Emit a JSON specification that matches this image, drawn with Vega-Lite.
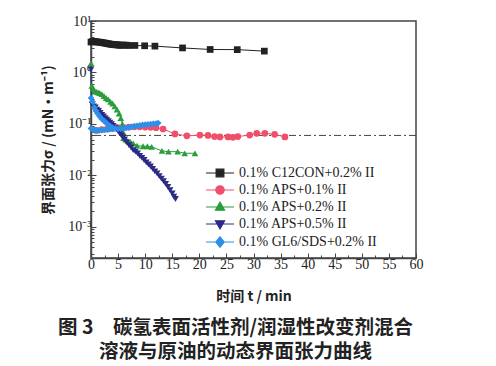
{
  "$schema": "https://vega.github.io/schema/vega-lite/v6.json",
  "width": 325,
  "height": 237,
  "autosize": {"type": "none"},
  "padding": {"left": 91, "top": 21, "right": 80, "bottom": 108},
  "background": "white",
  "title": {
    "text": ["图 3　碳氢表面活性剂/润湿性改变剂混合", "溶液与原油的动态界面张力曲线"],
    "orient": "bottom",
    "anchor": "middle",
    "font": "Noto Sans CJK SC",
    "fontSize": 19.5,
    "fontWeight": "bold",
    "color": "#222",
    "lineHeight": 24,
    "offset": 16,
    "dx": -18
  },
  "data": {
    "values": [
      {"s": "A", "b": "m", "t": 0, "v": 3.9},
      {"s": "A", "b": "m", "t": 0.3, "v": 4.0},
      {"s": "A", "b": "m", "t": 0.6, "v": 4.0},
      {"s": "A", "b": "m", "t": 0.9, "v": 3.95},
      {"s": "A", "b": "m", "t": 1.2, "v": 3.9},
      {"s": "A", "b": "m", "t": 1.5, "v": 3.9},
      {"s": "A", "b": "m", "t": 1.8, "v": 3.85},
      {"s": "A", "b": "m", "t": 2.1, "v": 3.8},
      {"s": "A", "b": "m", "t": 2.4, "v": 3.75},
      {"s": "A", "b": "m", "t": 2.7, "v": 3.7},
      {"s": "A", "b": "m", "t": 3.0, "v": 3.65},
      {"s": "A", "b": "m", "t": 3.3, "v": 3.6},
      {"s": "A", "b": "m", "t": 3.6, "v": 3.55},
      {"s": "A", "b": "m", "t": 3.9, "v": 3.5},
      {"s": "A", "b": "m", "t": 4.2, "v": 3.5},
      {"s": "A", "b": "m", "t": 4.5, "v": 3.45},
      {"s": "A", "b": "m", "t": 4.8, "v": 3.45},
      {"s": "A", "b": "m", "t": 5.1, "v": 3.4},
      {"s": "A", "b": "m", "t": 5.4, "v": 3.4},
      {"s": "A", "b": "m", "t": 5.7, "v": 3.4},
      {"s": "A", "b": "m", "t": 6.0, "v": 3.4},
      {"s": "A", "b": "m", "t": 6.5, "v": 3.4},
      {"s": "A", "b": "m", "t": 7.0, "v": 3.35},
      {"s": "A", "b": "m", "t": 8.1, "v": 3.35},
      {"s": "A", "b": "m", "t": 9.9, "v": 3.3},
      {"s": "A", "b": "m", "t": 11.8, "v": 3.25},
      {"s": "A", "b": "m", "t": 16.9, "v": 3.0},
      {"s": "A", "b": "m", "t": 22.0, "v": 2.8},
      {"s": "A", "b": "m", "t": 27.0, "v": 2.78},
      {"s": "A", "b": "m", "t": 32.0, "v": 2.6},

      {"s": "B", "b": "m", "t": 1, "v": 0.075},
      {"s": "B", "b": "m", "t": 2, "v": 0.078},
      {"s": "B", "b": "m", "t": 3, "v": 0.08},
      {"s": "B", "b": "m", "t": 4, "v": 0.082},
      {"s": "B", "b": "m", "t": 5, "v": 0.085},
      {"s": "B", "b": "m", "t": 6, "v": 0.085},
      {"s": "B", "b": "m", "t": 7, "v": 0.087},
      {"s": "B", "b": "m", "t": 8, "v": 0.088},
      {"s": "B", "b": "m", "t": 9, "v": 0.088},
      {"s": "B", "b": "m", "t": 10, "v": 0.087},
      {"s": "B", "b": "m", "t": 11, "v": 0.086},
      {"s": "B", "b": "m", "t": 12, "v": 0.085},
      {"s": "B", "b": "m", "t": 13.3, "v": 0.08},
      {"s": "B", "b": "m", "t": 15.5, "v": 0.064},
      {"s": "B", "b": "m", "t": 17.7, "v": 0.059},
      {"s": "B", "b": "m", "t": 20.1, "v": 0.061},
      {"s": "B", "b": "m", "t": 21.6, "v": 0.06},
      {"s": "B", "b": "m", "t": 22.8, "v": 0.057},
      {"s": "B", "b": "m", "t": 23.8, "v": 0.056},
      {"s": "B", "b": "m", "t": 25.3, "v": 0.056},
      {"s": "B", "b": "m", "t": 26.2, "v": 0.055},
      {"s": "B", "b": "m", "t": 27.1, "v": 0.057},
      {"s": "B", "b": "m", "t": 29.3, "v": 0.061},
      {"s": "B", "b": "m", "t": 30.6, "v": 0.066},
      {"s": "B", "b": "m", "t": 32.1, "v": 0.066},
      {"s": "B", "b": "m", "t": 33.9, "v": 0.063},
      {"s": "B", "b": "m", "t": 35.8, "v": 0.056},

      {"s": "C", "b": "m", "t": 0, "v": 1.5},
      {"s": "C", "b": "m", "t": 0.15, "v": 0.55},
      {"s": "C", "b": "m", "t": 0.4, "v": 0.48},
      {"s": "C", "b": "m", "t": 0.7, "v": 0.44},
      {"s": "C", "b": "m", "t": 1.0, "v": 0.42},
      {"s": "C", "b": "m", "t": 1.3, "v": 0.41},
      {"s": "C", "b": "m", "t": 1.6, "v": 0.4},
      {"s": "C", "b": "m", "t": 2.0, "v": 0.38},
      {"s": "C", "b": "m", "t": 2.4, "v": 0.35},
      {"s": "C", "b": "m", "t": 2.8, "v": 0.32},
      {"s": "C", "b": "m", "t": 3.2, "v": 0.3},
      {"s": "C", "b": "m", "t": 3.6, "v": 0.27},
      {"s": "C", "b": "m", "t": 4.0, "v": 0.25},
      {"s": "C", "b": "m", "t": 4.4, "v": 0.22},
      {"s": "C", "b": "m", "t": 4.8, "v": 0.19},
      {"s": "C", "b": "m", "t": 5.2, "v": 0.16},
      {"s": "C", "b": "m", "t": 5.5, "v": 0.13},
      {"s": "C", "b": "m", "t": 5.8, "v": 0.1},
      {"s": "C", "b": "m", "t": 5.9, "v": 0.07},
      {"s": "C", "b": "m", "t": 6.0, "v": 0.053},
      {"s": "C", "b": "m", "t": 6.4, "v": 0.05},
      {"s": "C", "b": "m", "t": 6.8, "v": 0.047},
      {"s": "C", "b": "m", "t": 7.3, "v": 0.045},
      {"s": "C", "b": "m", "t": 7.8, "v": 0.042},
      {"s": "C", "b": "m", "t": 8.5, "v": 0.038},
      {"s": "C", "b": "m", "t": 9.6, "v": 0.037},
      {"s": "C", "b": "m", "t": 10.4, "v": 0.037},
      {"s": "C", "b": "m", "t": 11.2, "v": 0.036},
      {"s": "C", "b": "m", "t": 13.1, "v": 0.03},
      {"s": "C", "b": "m", "t": 14.3, "v": 0.029},
      {"s": "C", "b": "m", "t": 16.0, "v": 0.029},
      {"s": "C", "b": "m", "t": 17.3, "v": 0.027},
      {"s": "C", "b": "m", "t": 19.2, "v": 0.027},

      {"s": "D", "b": "m", "t": 0, "v": 1.15},
      {"s": "D", "b": "m", "t": 0.2, "v": 0.24},
      {"s": "D", "b": "m", "t": 0.5, "v": 0.22},
      {"s": "D", "b": "m", "t": 0.8, "v": 0.21},
      {"s": "D", "b": "m", "t": 1.1, "v": 0.19},
      {"s": "D", "b": "m", "t": 1.4, "v": 0.18},
      {"s": "D", "b": "m", "t": 1.7, "v": 0.165},
      {"s": "D", "b": "m", "t": 2.0, "v": 0.15},
      {"s": "D", "b": "m", "t": 2.3, "v": 0.14},
      {"s": "D", "b": "m", "t": 2.6, "v": 0.13},
      {"s": "D", "b": "m", "t": 2.9, "v": 0.122},
      {"s": "D", "b": "m", "t": 3.2, "v": 0.114},
      {"s": "D", "b": "m", "t": 3.5, "v": 0.106},
      {"s": "D", "b": "m", "t": 3.8, "v": 0.099},
      {"s": "D", "b": "m", "t": 4.1, "v": 0.092},
      {"s": "D", "b": "m", "t": 4.4, "v": 0.085},
      {"s": "D", "b": "m", "t": 4.7, "v": 0.079},
      {"s": "D", "b": "m", "t": 5.0, "v": 0.073},
      {"s": "D", "b": "m", "t": 5.3, "v": 0.066},
      {"s": "D", "b": "m", "t": 5.6, "v": 0.06},
      {"s": "D", "b": "m", "t": 5.9, "v": 0.055},
      {"s": "D", "b": "m", "t": 6.2, "v": 0.05},
      {"s": "D", "b": "m", "t": 6.6, "v": 0.044},
      {"s": "D", "b": "m", "t": 7.0, "v": 0.039},
      {"s": "D", "b": "m", "t": 7.4, "v": 0.035},
      {"s": "D", "b": "m", "t": 7.8, "v": 0.031},
      {"s": "D", "b": "m", "t": 8.2, "v": 0.029},
      {"s": "D", "b": "m", "t": 8.6, "v": 0.027},
      {"s": "D", "b": "m", "t": 9.0, "v": 0.024},
      {"s": "D", "b": "m", "t": 9.4, "v": 0.022},
      {"s": "D", "b": "m", "t": 9.8, "v": 0.02},
      {"s": "D", "b": "m", "t": 10.2, "v": 0.018},
      {"s": "D", "b": "m", "t": 10.6, "v": 0.0165},
      {"s": "D", "b": "m", "t": 11.0, "v": 0.015},
      {"s": "D", "b": "m", "t": 11.4, "v": 0.0135},
      {"s": "D", "b": "m", "t": 11.8, "v": 0.012},
      {"s": "D", "b": "m", "t": 12.2, "v": 0.011},
      {"s": "D", "b": "m", "t": 12.6, "v": 0.0097},
      {"s": "D", "b": "m", "t": 13.0, "v": 0.0087},
      {"s": "D", "b": "m", "t": 13.4, "v": 0.0078},
      {"s": "D", "b": "m", "t": 13.8, "v": 0.0069},
      {"s": "D", "b": "m", "t": 14.2, "v": 0.006},
      {"s": "D", "b": "m", "t": 14.6, "v": 0.0052},
      {"s": "D", "b": "m", "t": 15.0, "v": 0.0045},
      {"s": "D", "b": "m", "t": 15.3, "v": 0.0039},
      {"s": "D", "b": "m", "t": 15.6, "v": 0.0035},

      {"s": "E", "b": "lo", "t": 0, "v": 0.082},
      {"s": "E", "b": "lo", "t": 0.3, "v": 0.078},
      {"s": "E", "b": "lo", "t": 0.7, "v": 0.076},
      {"s": "E", "b": "lo", "t": 1.1, "v": 0.075},
      {"s": "E", "b": "lo", "t": 1.5, "v": 0.075},
      {"s": "E", "b": "lo", "t": 2.0, "v": 0.076},
      {"s": "E", "b": "lo", "t": 2.5, "v": 0.077},
      {"s": "E", "b": "lo", "t": 3.0, "v": 0.078},
      {"s": "E", "b": "lo", "t": 3.5, "v": 0.079},
      {"s": "E", "b": "lo", "t": 4.0, "v": 0.08},
      {"s": "E", "b": "m", "t": 0, "v": 0.32},
      {"s": "E", "b": "m", "t": 0.3, "v": 0.27},
      {"s": "E", "b": "m", "t": 0.6, "v": 0.21},
      {"s": "E", "b": "m", "t": 0.9, "v": 0.18},
      {"s": "E", "b": "m", "t": 1.2, "v": 0.16},
      {"s": "E", "b": "m", "t": 1.6, "v": 0.14},
      {"s": "E", "b": "m", "t": 2.0, "v": 0.125},
      {"s": "E", "b": "m", "t": 2.4, "v": 0.115},
      {"s": "E", "b": "m", "t": 2.8, "v": 0.105},
      {"s": "E", "b": "m", "t": 3.2, "v": 0.097},
      {"s": "E", "b": "m", "t": 3.6, "v": 0.09},
      {"s": "E", "b": "m", "t": 4.0, "v": 0.085},
      {"s": "E", "b": "m", "t": 4.5, "v": 0.082},
      {"s": "E", "b": "m", "t": 5.0, "v": 0.08},
      {"s": "E", "b": "m", "t": 5.5, "v": 0.081},
      {"s": "E", "b": "m", "t": 6.0, "v": 0.082},
      {"s": "E", "b": "m", "t": 6.5, "v": 0.084},
      {"s": "E", "b": "m", "t": 7.0, "v": 0.086},
      {"s": "E", "b": "m", "t": 7.5, "v": 0.088},
      {"s": "E", "b": "m", "t": 8.0, "v": 0.09},
      {"s": "E", "b": "m", "t": 8.5, "v": 0.092},
      {"s": "E", "b": "m", "t": 9.0, "v": 0.094},
      {"s": "E", "b": "m", "t": 9.5, "v": 0.096},
      {"s": "E", "b": "m", "t": 10.0, "v": 0.097},
      {"s": "E", "b": "m", "t": 10.5, "v": 0.098},
      {"s": "E", "b": "m", "t": 11.0, "v": 0.1},
      {"s": "E", "b": "m", "t": 11.5, "v": 0.101},
      {"s": "E", "b": "m", "t": 12.0, "v": 0.102},
      {"s": "E", "b": "m", "t": 12.4, "v": 0.104}
    ]
  },
  "encoding": {
    "x": {
      "field": "t",
      "type": "quantitative",
      "scale": {"domain": [0, 60], "nice": false, "zero": false},
      "axis": {
        "title": "时间 t / min",
        "titleFont": "Noto Sans CJK SC",
        "titleFontSize": 14,
        "titleFontWeight": "bold",
        "titleColor": "#222",
        "titlePadding": 16,
        "values": [0, 2.5, 5, 7.5, 10, 12.5, 15, 17.5, 20, 22.5, 25, 27.5, 30, 32.5, 35, 37.5, 40, 42.5, 45, 47.5, 50, 52.5, 55, 57.5, 60],
        "labelExpr": "datum.value % 5 == 0 ? datum.label : ''",
        "labelFont": "Liberation Serif",
        "labelFontSize": 14,
        "labelColor": "#222",
        "labelPadding": 4,
        "labelFlush": false,
        "labelOverlap": false,
        "grid": false,
        "domainColor": "#444",
        "domainWidth": 1.5,
        "tickColor": "#444",
        "tickSize": {"condition": {"test": "datum.value % 5 == 0", "value": -5}, "value": -3}
      }
    },
    "y": {
      "field": "v",
      "type": "quantitative",
      "scale": {"type": "log", "domain": [0.00025, 10], "nice": false},
      "axis": {
        "title": "界面张力σ / (mN·m⁻¹)",
        "titleFont": "Noto Sans CJK SC",
        "titleFontSize": 14,
        "titleFontWeight": "bold",
        "titleColor": "#222",
        "titlePadding": 12,
        "values": [0.0003, 0.0004, 0.0005, 0.0006, 0.0007, 0.0008, 0.0009, 0.001, 0.002, 0.003, 0.004, 0.005, 0.006, 0.007, 0.008, 0.009, 0.01, 0.02, 0.03, 0.04, 0.05, 0.06, 0.07, 0.08, 0.09, 0.1, 0.2, 0.3, 0.4, 0.5, 0.6, 0.7, 0.8, 0.9, 1, 2, 3, 4, 5, 6, 7, 8, 9, 10],
        "labelExpr": "datum.value == 10 ? '10¹' : datum.value == 1 ? '10⁰' : datum.value == 0.1 ? '10⁻¹' : datum.value == 0.01 ? '10⁻²' : datum.value == 0.001 ? '10⁻³' : ''",
        "labelFont": "Liberation Serif",
        "labelFontSize": 14,
        "labelColor": "#222",
        "labelPadding": 5,
        "labelOverlap": false,
        "labelFlush": false,
        "grid": false,
        "domainColor": "#444",
        "domainWidth": 1.5,
        "tickColor": "#444",
        "tickSize": {"condition": {"test": "datum.value == 10 || datum.value == 1 || datum.value == 0.1 || datum.value == 0.01 || datum.value == 0.001", "value": -5}, "value": -3}
      }
    }
  },
  "layer": [
    {
      "data": {"values": [{"v": 0.06}]},
      "mark": {"type": "rule", "color": "#444", "strokeWidth": 1, "strokeDash": [7, 3, 2, 3]},
      "encoding": {"x": null, "y": {"field": "v", "type": "quantitative"}}
    },
    {
      "mark": {"type": "line", "strokeWidth": 1},
      "encoding": {
        "color": {
          "field": "s",
          "type": "nominal",
          "legend": {
            "title": null,
            "orient": "none",
            "legendX": 121,
            "legendY": 144,
            "labelExpr": "datum.value == 'A' ? '0.1% C12CON+0.2% II' : datum.value == 'B' ? '0.1% APS+0.1% II' : datum.value == 'C' ? '0.1% APS+0.2% II' : datum.value == 'D' ? '0.1% APS+0.5% II' : '0.1% GL6/SDS+0.2% II'",
            "labelFont": "Liberation Serif",
            "labelFontSize": 14,
            "labelColor": "#222",
            "labelOffset": 11,
            "symbolSize": 196,
            "rowPadding": 2,
            "padding": 0,
            "encode": {
              "symbols": {
                "update": {
                  "shape": {"signal": "datum.value == 'A' ? 'M-2,0H2M-0.55,-0.55H0.55V0.55H-0.55Z' : datum.value == 'B' ? 'M-2,0H2M-0.6,0A0.6,0.6,0,1,0,0.6,0A0.6,0.6,0,1,0,-0.6,0Z' : datum.value == 'C' ? 'M-2,0H2M0,-0.7L0.65,0.45H-0.65Z' : datum.value == 'D' ? 'M-2,0H2M0,0.7L0.65,-0.45H-0.65Z' : 'M-2,0H2M0,-0.75L0.6,0L0,0.75L-0.6,0Z'"},
                  "fill": {"signal": "scale('color', datum.value)"},
                  "stroke": {"signal": "scale('color', datum.value)"},
                  "strokeWidth": {"value": 1.2},
                  "opacity": {"value": 1}
                }
              }
            }
          }
        },
        "detail": {"field": "b"}
      }
    },
    {
      "mark": {"type": "point", "filled": true, "size": 45, "opacity": 1},
      "encoding": {
        "color": {
          "field": "s",
          "type": "nominal",
          "legend": {
            "title": null,
            "orient": "none",
            "legendX": 121,
            "legendY": 144,
            "labelExpr": "datum.value == 'A' ? '0.1% C12CON+0.2% II' : datum.value == 'B' ? '0.1% APS+0.1% II' : datum.value == 'C' ? '0.1% APS+0.2% II' : datum.value == 'D' ? '0.1% APS+0.5% II' : '0.1% GL6/SDS+0.2% II'",
            "labelFont": "Liberation Serif",
            "labelFontSize": 14,
            "labelColor": "#222",
            "labelOffset": 11,
            "symbolSize": 196,
            "rowPadding": 2,
            "padding": 0,
            "encode": {
              "symbols": {
                "update": {
                  "shape": {"signal": "datum.value == 'A' ? 'M-2,0H2M-0.55,-0.55H0.55V0.55H-0.55Z' : datum.value == 'B' ? 'M-2,0H2M-0.6,0A0.6,0.6,0,1,0,0.6,0A0.6,0.6,0,1,0,-0.6,0Z' : datum.value == 'C' ? 'M-2,0H2M0,-0.7L0.65,0.45H-0.65Z' : datum.value == 'D' ? 'M-2,0H2M0,0.7L0.65,-0.45H-0.65Z' : 'M-2,0H2M0,-0.75L0.6,0L0,0.75L-0.6,0Z'"},
                  "fill": {"signal": "scale('color', datum.value)"},
                  "stroke": {"signal": "scale('color', datum.value)"},
                  "strokeWidth": {"value": 1.2},
                  "opacity": {"value": 1}
                }
              }
            }
          }
        },
        "shape": {
          "field": "s",
          "type": "nominal",
          "scale": {"domain": ["A", "B", "C", "D", "E"], "range": ["square", "circle", "triangle-up", "triangle-down", "diamond"]},
          "legend": null
        }
      }
    }
  ],
  "config": {
    "view": {"stroke": "#444", "strokeWidth": 1.5},
    "font": "Liberation Serif",
    "range": {"category": ["#222222", "#f04f6b", "#2a9d3c", "#2b2a85", "#2d8fe8"]}
  }
}
